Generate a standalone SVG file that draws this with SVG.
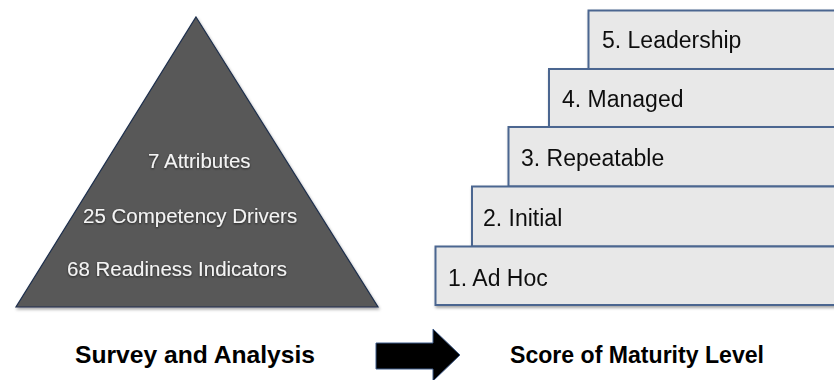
<svg xmlns="http://www.w3.org/2000/svg" width="834" height="380" viewBox="0 0 834 380">
  <defs>
    <filter id="shadow" x="-10%" y="-10%" width="130%" height="130%">
      <feDropShadow dx="1" dy="2" stdDeviation="1.8" flood-color="#000" flood-opacity="0.35"/>
    </filter>
    <filter id="glow" x="-10%" y="-30%" width="120%" height="160%">
      <feDropShadow dx="0" dy="1" stdDeviation="1.2" flood-color="#000" flood-opacity="0.6"/>
    </filter>
  </defs>
  <style>
    .step rect { fill: #e8e8e8; stroke: #4b6690; stroke-width: 2; }
    .step text { font-family: "Liberation Sans", Arial, sans-serif; font-size: 23px; fill: #111; }
    .tri-label { font-family: "Liberation Sans", Arial, sans-serif; font-size: 20.5px; fill: #f4f4f4; }
    .caption { font-family: "Liberation Sans", Arial, sans-serif; font-size: 24px; font-weight: bold; fill: #000; }
  </style>

  <rect width="834" height="380" fill="#ffffff"/>

  <!-- Pyramid of survey elements -->
  <g id="pyramid">
    <polygon points="196,17 378,307 16,307" fill="#595959" stroke="#1e2f4c" stroke-width="1.2" filter="url(#shadow)"/>
    <g filter="url(#glow)">
      <text class="tri-label" x="148" y="168">7 Attributes</text>
      <text class="tri-label" x="83" y="223">25 Competency Drivers</text>
      <text class="tri-label" x="67" y="276">68 Readiness Indicators</text>
    </g>
  </g>

  <!-- Maturity staircase -->
  <g id="level-5" class="step" filter="url(#shadow)">
    <rect x="588.5" y="10.5" width="260" height="58.5"/>
    <text x="602" y="48">5. Leadership</text>
  </g>
  <g id="level-4" class="step" filter="url(#shadow)">
    <rect x="549" y="69" width="300" height="58"/>
    <text x="562" y="107">4. Managed</text>
  </g>
  <g id="level-3" class="step" filter="url(#shadow)">
    <rect x="508.5" y="127" width="340" height="59.5"/>
    <text x="521" y="166">3. Repeatable</text>
  </g>
  <g id="level-2" class="step" filter="url(#shadow)">
    <rect x="472" y="186.5" width="380" height="60"/>
    <text x="483" y="226">2. Initial</text>
  </g>
  <g id="level-1" class="step" filter="url(#shadow)">
    <rect x="435.5" y="246.5" width="420" height="58.5"/>
    <text x="448" y="286">1. Ad Hoc</text>
  </g>

  <!-- Captions -->
  <g id="caption-survey">
    <text class="caption" x="75" y="363" textLength="240" lengthAdjust="spacingAndGlyphs">Survey and Analysis</text>
  </g>
  <g id="caption-score">
    <text class="caption" x="510" y="363" textLength="254" lengthAdjust="spacingAndGlyphs">Score of Maturity Level</text>
  </g>

  <!-- Connector: block arrow from survey to score -->
  <g id="connectors">
    <polygon points="376,343 433,343 433,329 460,355 433,381 433,369 376,369" fill="#000" stroke="#3d5a88" stroke-width="1"/>
  </g>
</svg>
